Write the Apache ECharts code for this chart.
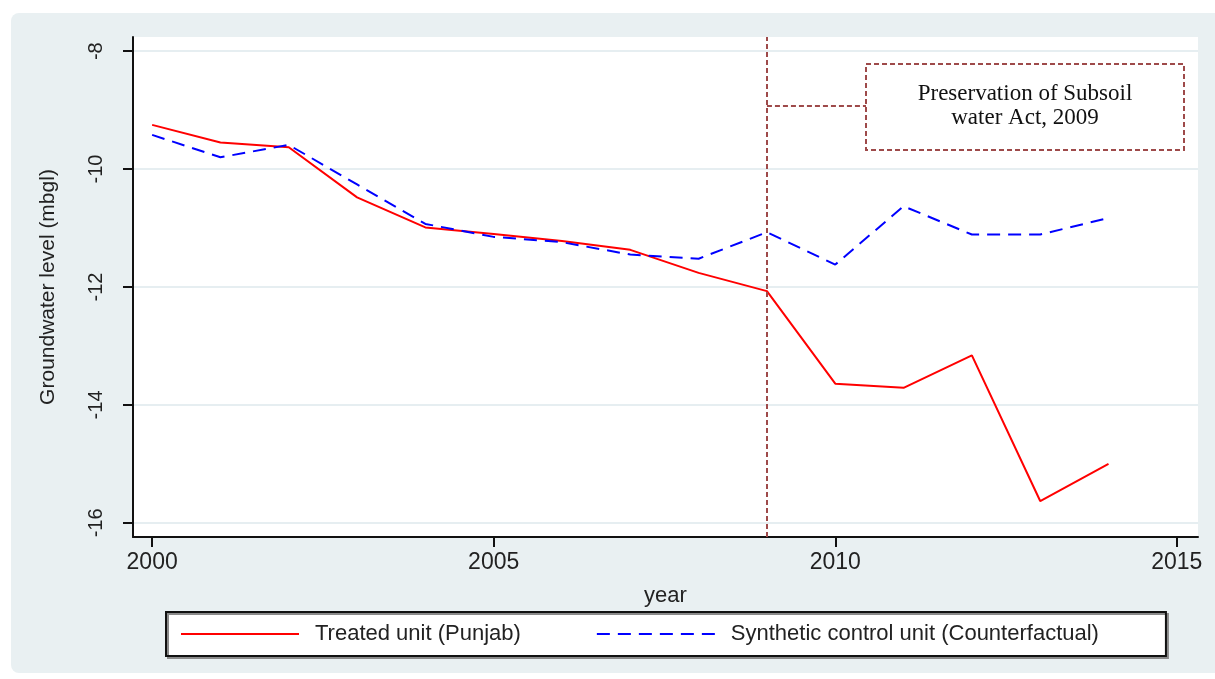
<!DOCTYPE html>
<html>
<head>
<meta charset="utf-8">
<script src="https://cdn.jsdelivr.net/npm/echarts@6/dist/echarts.min.js"></script>
<style>
  html, body { margin: 0; padding: 0; background: #fff; }
  #main { width: 1215px; height: 679px; }
</style>
</head>
<body>
<div id="main"></div>
<script>
// data
let years = [2000, 2001, 2002, 2003, 2004, 2005, 2006, 2007, 2008, 2009, 2010, 2011, 2012, 2013, 2014];
let treated = [-9.25, -9.55, -9.63, -10.48, -10.99, -11.10, -11.22, -11.37, -11.76, -12.07, -13.64, -13.71, -13.16, -15.63, -15.00];
let synthetic = [-9.42, -9.80, -9.59, -10.26, -10.93, -11.15, -11.24, -11.45, -11.52, -11.07, -11.62, -10.63, -11.11, -11.11, -10.83];
let xTicks = [2000, 2005, 2010, 2015];
let yTicks = [-16, -14, -12, -10, -8];
let policyYear = 2009;
let policyText = 'Preservation of Subsoil\nwater Act, 2009';

let myChart = echarts.init(document.getElementById('main'));

let treatedPts = [];
let synthPts = [];
for (let i = 0; i < years.length; i++) {
    treatedPts.push([years[i], treated[i]]);
    synthPts.push([years[i], synthetic[i]]);
}

let brown = '#9e4a4a';
let font = 'Liberation Sans';
let panel = {
    type: 'rect',
    z: -10,
    shape: { x: 11, y: 13, width: 1215, height: 660, r: 8 },
    style: { fill: '#e9f0f2' }
};

let option = {
    animation: false,
    backgroundColor: '#fff',
    graphic: [panel],
    grid: {
        left: 133, top: 37, right: 17, bottom: 142,
        show: true, backgroundColor: '#fff', borderWidth: 0
    },
    legend: {
        left: 166, top: 612,
        padding: [11, 67, 11, 14],
        itemGap: 75,
        itemWidth: 118,
        itemHeight: 14,
        backgroundColor: '#fff',
        borderColor: '#111',
        borderWidth: 2,
        shadowColor: '#8a8a8a',
        shadowOffsetX: 2,
        shadowOffsetY: 2,
        itemStyle: { opacity: 0 },
        textStyle: { fontFamily: font, fontSize: 22, color: '#222', padding: [0, 0, 0, 11] },
        data: ['Treated unit (Punjab)', 'Synthetic control unit (Counterfactual)']
    },
    xAxis: {
        type: 'value',
        min: 1999.72,
        max: 2015.31,
        name: 'year',
        nameLocation: 'middle',
        nameGap: 48,
        nameTextStyle: { fontFamily: font, fontSize: 22, color: '#222' },
        axisLine: { onZero: false, lineStyle: { color: '#111', width: 2 } },
        axisTick: { customValues: xTicks, length: 10, lineStyle: { color: '#111', width: 2 } },
        axisLabel: {
            customValues: xTicks, fontFamily: font, fontSize: 23, color: '#222', margin: 14,
            formatter: function (v) { return String(v); }
        },
        splitLine: { show: false }
    },
    yAxis: {
        type: 'value',
        min: -16.24,
        max: -7.76,
        name: 'Groundwater level (mbgl)',
        nameLocation: 'middle',
        nameGap: 74,
        nameTextStyle: { fontFamily: font, fontSize: 21, color: '#222' },
        axisLine: { onZero: false, lineStyle: { color: '#111', width: 2 } },
        axisTick: { customValues: yTicks, length: 10, lineStyle: { color: '#111', width: 2 } },
        axisLabel: { customValues: yTicks, rotate: 90, fontFamily: font, fontSize: 20, color: '#222', margin: 27 },
        splitLine: { show: true, lineStyle: { color: '#e6eef1', width: 2 } }
    },
    series: [
        {
            name: 'Treated unit (Punjab)',
            type: 'line',
            data: treatedPts,
            symbol: 'none',
            lineStyle: { color: '#ff0000', width: 2 },
            itemStyle: { color: '#ff0000' },
            z: 3,
            markLine: {
                silent: true,
                symbol: 'none',
                label: { show: false },
                lineStyle: { type: [5, 3], color: brown, width: 2 },
                data: [{ xAxis: policyYear }]
            }
        },
        {
            name: 'Synthetic control unit (Counterfactual)',
            type: 'line',
            data: synthPts,
            symbol: 'none',
            lineStyle: { color: '#0000ff', width: 2, type: [13, 8] },
            itemStyle: { color: '#0000ff' },
            z: 4
        }
    ]
};

myChart.setOption(option);

// annotation box tied to the policy year line
let px = myChart.convertToPixel({ xAxisIndex: 0 }, policyYear);
myChart.setOption({
    graphic: [
        panel,
        {
            type: 'line',
            z: 10,
            shape: { x1: px, y1: 106, x2: 866, y2: 106 },
            style: { stroke: brown, lineWidth: 2, lineDash: [5, 3] }
        },
        {
            type: 'rect',
            z: 10,
            shape: { x: 866, y: 64, width: 318, height: 86 },
            style: { fill: '#fff', stroke: brown, lineWidth: 2, lineDash: [5, 3] }
        },
        {
            type: 'text',
            z: 11,
            x: 1025,
            y: 106,
            style: {
                text: policyText,
                fontFamily: 'Liberation Serif',
                fontSize: 23,
                lineHeight: 24,
                fill: '#111',
                align: 'center',
                verticalAlign: 'middle'
            }
        }
    ]
});
</script>
</body>
</html>
